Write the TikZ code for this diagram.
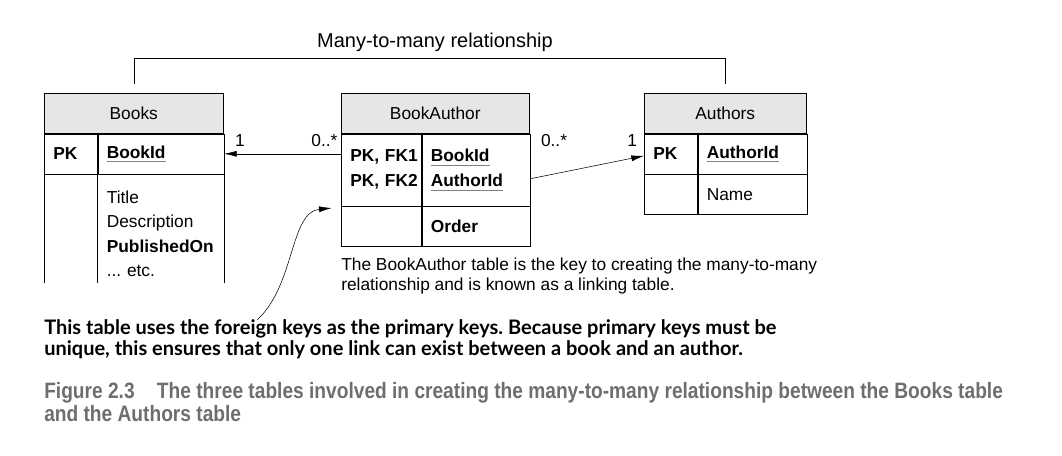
\documentclass[tikz,border=0pt]{standalone}
\usepackage{fontspec}
\setmainfont{Liberation Sans}
\newfontfamily\notefont{Lato}
\newfontfamily\capfont[FakeStretch=0.86]{Liberation Sans}
\usetikzlibrary{arrows.meta,positioning}
\definecolor{headgray}{HTML}{E6E6E6}
\definecolor{capgray}{HTML}{6E6E6E}
\frenchspacing
% underlined key column
\newcommand{\keyul}[1]{\leavevmode\setbox0\hbox{#1}\rlap{\color{gray}\rule[-3pt]{\wd0}{0.8pt}}\box0}

\begin{document}
\begin{tikzpicture}[x=0.75pt,y=-0.75pt,
	tblhead/.style={draw,fill=headgray,anchor=north west,minimum height=30pt,inner sep=0pt,font=\fontsize{13}{18}\selectfont},
	cell/.style={draw,anchor=north west,minimum height=30pt,inner xsep=6.75pt,inner ysep=0pt,align=left,font=\fontsize{13}{18.75}\selectfont\bfseries},
	lbl/.style={font=\fontsize{13}{15}\selectfont,inner sep=0pt},
	link/.style={-{Latex[length=9.5pt,width=4.5pt]}}]
	\useasboundingbox (0,0) rectangle (1062,455);

	% Books
	\node[tblhead,minimum width=134.25pt] (bkHead) at (44,93) {Books};
	\node[cell,text width=26.25pt] (bkPK) at (bkHead.south west) {PK};
	\node[cell,text width=81pt] (bkId) at (bkPK.north east) {\keyul{BookId}};
	\node[cell,draw=none,text width=81pt,inner ysep=12.5pt,font=\fontsize{13}{18.25}\selectfont] (bkBody) at (bkId.south west)
		{Title\\Description\\\textbf{PublishedOn}\\... etc.};
	\draw (bkPK.south west) -- ++(0,-81.75pt);
	\draw (bkPK.south east) -- ++(0,-81.75pt);
	\draw (bkId.south east) -- ++(0,-81.75pt);

	% BookAuthor
	\node[tblhead,minimum width=141pt] (baHead) at (341,93) {BookAuthor};
	\node[cell,minimum height=54pt,text width=46.5pt] (baKeys) at (baHead.south west) {\mbox{PK, FK1}\\\mbox{PK, FK2}};
	\node[cell,minimum height=54pt,text width=67.5pt] (baIds) at (baKeys.north east) {\keyul{BookId}\\\keyul{AuthorId}};
	\node[cell,text width=46.5pt] (baOrdKey) at (baKeys.south west) {};
	\node[cell,text width=67.5pt] (baOrder) at (baKeys.south east) {Order};
	\node[anchor=north west,inner sep=0pt,align=left,font=\fontsize{13}{15}\selectfont] (baNote) at ([yshift=-8pt]baOrdKey.south west)
		{The BookAuthor table is the key to creating the many-to-many\\relationship and is known as a linking table.};

	% Authors
	\node[tblhead,minimum width=121.5pt] (auHead) at (644,93) {Authors};
	\node[cell,text width=26.25pt] (auPK) at (auHead.south west) {PK};
	\node[cell,text width=68.25pt] (auId) at (auPK.north east) {\keyul{AuthorId}};
	\node[cell,text width=26.25pt] (auBlank) at (auPK.south west) {};
	\node[cell,text width=68.25pt,font=\fontsize{13}{18}\selectfont] (auName) at (auPK.south east) {Name};

	% many-to-many bracket
	\node[font=\fontsize{15}{17}\selectfont] (mmLabel) at (435,42) {Many-to-many relationship};
	\draw ([yshift=6.75pt]bkHead.north) -- ++(0,19.5pt) -| ([yshift=6.75pt]auHead.north);

	% links
	\draw[link] (bkId.east -| baKeys.west) -- (bkId.east);
	\node[lbl,anchor=south west] (bkOne) at ([xshift=8pt,yshift=5pt]bkId.east) {1};
	\node[lbl,anchor=south east] (baMany1) at ([xshift=-2.5pt,yshift=5pt]bkId.east -| baKeys.west) {0..*};
	\draw[link] ([yshift=-6.75pt]baIds.east) -- ([yshift=-1.5pt]auPK.west);
	\node[lbl,anchor=south west] (baMany2) at ([xshift=8pt,yshift=5pt]bkId.east -| baIds.east) {0..*};
	\node[lbl,anchor=south east] (auOne) at ([xshift=-5pt,yshift=5pt]auPK.west) {1};

	% note on the keys
	\node[anchor=north west,inner sep=0pt,align=left,font=\notefont\bfseries\fontsize{15}{16}\selectfont] (keyNote) at (44,319)
		{This table uses the foreign keys as the primary keys. Because primary keys must be\\unique, this ensures that only one link can exist between a book and an author.};
	\coordinate (noteTip) at ([xshift=-7pt,yshift=-1.5pt]baKeys.south west);
	\draw[link] ([xshift=160pt,yshift=-0.5pt]keyNote.north west) .. controls (295,285) and (290,212) .. (noteTip);

	% caption
	\node[anchor=north west,inner sep=0pt,align=left,text=capgray,font=\capfont\bfseries\fontsize{16.7}{17.6}\selectfont] (caption) at (44,382)
		{Figure 2.3\hspace{1em}The three tables involved in creating the many-to-many relationship between the Books table\\and the Authors table};
\end{tikzpicture}
\end{document}
